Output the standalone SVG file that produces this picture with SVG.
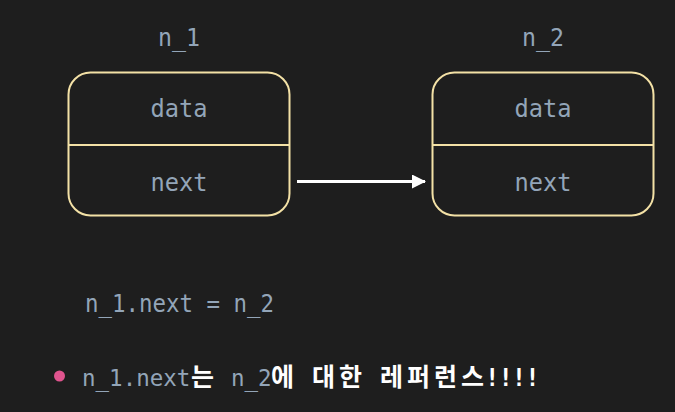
<svg xmlns="http://www.w3.org/2000/svg" width="675" height="412" viewBox="0 0 675 412">
<defs>
<style>
.bg{fill:#1e1e1e}
.box{fill:#1e1e1e;stroke:#f3e1a6;stroke-width:2}
.div{stroke:#f3e1a6;stroke-width:2}
.mono{font-family:"DejaVu Sans Mono","Liberation Mono",monospace;font-size:24px;fill:#93a5b8}
.m2{font-family:"DejaVu Sans Mono","Liberation Mono",monospace;font-size:22.5px;font-weight:normal;fill:#93a5b8}
.kr{font-family:"Noto Sans CJK KR","Noto Sans",sans-serif;font-size:25px;font-weight:bold;fill:#ffffff}
.wm{font-family:"DejaVu Sans Mono","Liberation Mono",monospace;font-size:24px;font-weight:bold;fill:#ffffff}
.conn{stroke:#ffffff;stroke-width:3;fill:none}
</style>
<marker id="ah" markerWidth="14" markerHeight="14" refX="13" refY="7" orient="auto" markerUnits="userSpaceOnUse">
<path d="M0,0 L14,7 L0,14 Z" fill="#ffffff"/>
</marker>
</defs>
<rect class="bg" x="0" y="0" width="675" height="412"/>
<g id="node-n1">
<text class="mono" x="179" y="46" text-anchor="middle" textLength="42" lengthAdjust="spacingAndGlyphs">n_1</text>
<rect class="box" x="68.5" y="72.5" width="221" height="143" rx="22"/>
<line class="div" x1="68.5" y1="145" x2="289.5" y2="145"/>
<text class="mono" x="179" y="117" text-anchor="middle" textLength="57" lengthAdjust="spacingAndGlyphs">data</text>
<text class="mono" x="179" y="191" text-anchor="middle" textLength="57" lengthAdjust="spacingAndGlyphs">next</text>
</g>
<g id="node-n2">
<text class="mono" x="543" y="46" text-anchor="middle" textLength="42" lengthAdjust="spacingAndGlyphs">n_2</text>
<rect class="box" x="432.5" y="72.5" width="221" height="143" rx="22"/>
<line class="div" x1="432.5" y1="145" x2="653.5" y2="145"/>
<text class="mono" x="543" y="117" text-anchor="middle" textLength="57" lengthAdjust="spacingAndGlyphs">data</text>
<text class="mono" x="543" y="191" text-anchor="middle" textLength="57" lengthAdjust="spacingAndGlyphs">next</text>
</g>
<g id="connectors">
<line class="conn" x1="297" y1="181.5" x2="425" y2="181.5" marker-end="url(#ah)"/>
</g>
<g id="code">
<text class="mono" x="85" y="312" textLength="189" lengthAdjust="spacingAndGlyphs">n_1.next = n_2</text>
</g>
<g id="note">
<circle cx="59.5" cy="376" r="5.5" fill="#e0548e"/>
<text y="386"><tspan class="m2" x="82">n_1.next</tspan><tspan class="kr" x="191">는</tspan><tspan class="m2" x="231">n_2</tspan><tspan class="kr" x="271">에</tspan><tspan class="kr" x="312">대</tspan><tspan class="kr" x="339">한</tspan><tspan class="kr" x="380">레</tspan><tspan class="kr" x="407">퍼</tspan><tspan class="kr" x="434">런</tspan><tspan class="kr" x="461">스</tspan><tspan class="wm" x="485">!</tspan><tspan class="wm" x="498.4">!</tspan><tspan class="wm" x="511.8">!</tspan><tspan class="wm" x="525.2">!</tspan></text>
</g>
</svg>
